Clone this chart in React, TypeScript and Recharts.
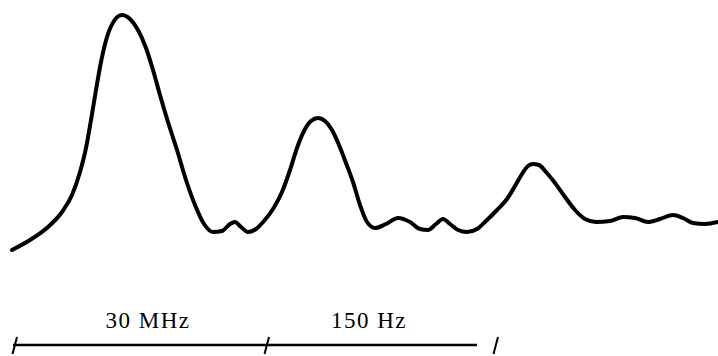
import { LineChart, Line, XAxis, YAxis, ReferenceLine, ReferenceDot } from 'recharts';

// Trace of the signal: horizontal position and level (level grows upwards)
const positions = [
  12, 30, 48, 62, 72, 80, 86, 91, 96, 101, 107, 114, 122, 130, 138, 146, 153, 160, 168,
  177, 186, 195, 204, 213, 222, 230, 235, 241, 248, 256, 264, 273, 282, 290, 297, 304,
  311, 318, 325, 332, 339, 346, 353, 360, 367, 375, 386, 398, 410, 420, 428, 436, 443,
  450, 458, 467, 477, 487, 497, 507, 515, 522, 528, 533, 539, 546, 555, 565, 575, 585,
  596, 610, 623, 635, 648, 660, 673, 683, 693, 705, 718,
];
const levels = [
  106, 116, 129, 144, 161, 184, 208, 236, 266, 294, 319, 335, 341, 337, 326, 308, 286,
  261, 234, 206, 176, 151, 132, 124, 125, 132, 134, 129, 124, 127, 135, 147, 164, 186,
  208, 225, 235, 238, 235, 226, 211, 193, 174, 151, 134, 128, 132, 138, 134, 127, 126,
  132, 137, 132, 126, 124, 127, 136, 146, 157, 170, 182, 190, 192, 191, 184, 173, 159,
  146, 137, 134, 135, 139, 138, 134, 137, 141, 138, 133, 132, 134,
];

// Scale bar under the trace
const barStart = 13;
const barEnd = 477;
const barLevel = 11;
const tickMarks = [15, 267, 496];
const bandLabels = ['30 MHz', '150 Hz'];
const labelCenters = [148, 369];

const data = positions.map((x, i) => ({ x, level: levels[i] }));

const SerifLabel = (props: any) => {
  const { viewBox, value } = props;
  const cx = viewBox.x + (viewBox.width || 0) / 2;
  const cy = viewBox.y + (viewBox.height || 0) / 2;
  return (
    <text
      x={cx}
      y={cy}
      textAnchor="middle"
      dominantBaseline="central"
      fill="#000"
      fontSize={23}
      letterSpacing={1.5}
      style={{ fontFamily: '"Liberation Serif", "Times New Roman", serif' }}
    >
      {value}
    </text>
  );
};

export default function App() {
  return (
    <div style={{ position: 'fixed', left: 0, top: 0, background: '#fff' }}>
      <LineChart width={718} height={356} data={data} margin={{ top: 0, right: 0, bottom: 0, left: 0 }}>
        <XAxis type="number" dataKey="x" domain={[0, 718]} hide />
        <YAxis type="number" domain={[0, 356]} hide />
        <ReferenceLine
          segment={[{ x: barStart, y: barLevel }, { x: barEnd, y: barLevel }]}
          stroke="#000"
          strokeWidth={2.5}
          ifOverflow="visible"
        />
        {tickMarks.map((t, i) => (
          <ReferenceLine
            key={`tick-${i}`}
            segment={[{ x: t - 2.5, y: barLevel - 9 }, { x: t + 2, y: barLevel + 8 }]}
            stroke="#000"
            strokeWidth={2}
            ifOverflow="visible"
          />
        ))}
        {bandLabels.map((text, i) => (
          <ReferenceDot
            key={`label-${i}`}
            x={labelCenters[i]}
            y={barLevel + 25}
            r={0}
            fill="none"
            stroke="none"
            label={<SerifLabel value={text} />}
          />
        ))}
        <Line
          type="monotone"
          dataKey="level"
          stroke="#000"
          strokeWidth={4}
          strokeLinecap="round"
          strokeLinejoin="round"
          dot={false}
          activeDot={false}
          isAnimationActive={false}
        />
      </LineChart>
    </div>
  );
}
